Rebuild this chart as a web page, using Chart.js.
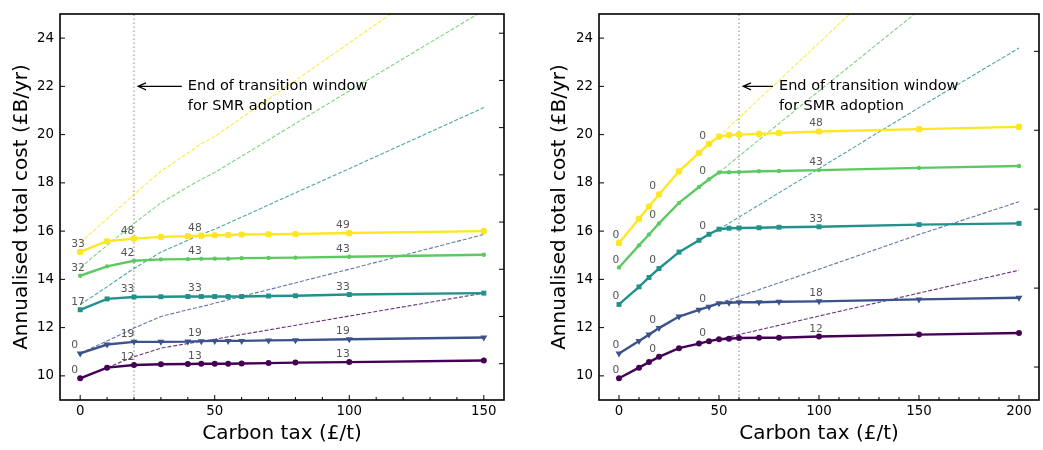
<!DOCTYPE html>
<html><head><meta charset="utf-8">
<script src="https://cdn.jsdelivr.net/npm/chart.js@4.4.1/dist/chart.umd.min.js"></script>
<style>
html,body{margin:0;padding:0;background:#fff;overflow:hidden;}
#wrap{position:relative;width:1043px;height:450px;}
canvas{position:absolute;top:0;}
</style></head><body>
<div id="wrap">
<canvas id="c1" width="520" height="450" style="left:0;width:520px;height:450px"></canvas>
<canvas id="c2" width="523" height="450" style="left:520px;width:523px;height:450px"></canvas>
</div>
<script>
// ---------- DATA ----------
const xLeft  = [0,10,20,30,40,45,50,55,60,70,80,100,150];
const xRight = [0,10,15,20,30,40,45,50,55,60,70,80,100,150,200];
const xBase  = [0,10,15,20,30,40,45,50,100,150,200];

const leftPurple = [9.90,10.34,10.45,10.48,10.49,10.50,10.50,10.50,10.51,10.53,10.55,10.57,10.64];
const leftBlue   = [10.93,11.30,11.41,11.41,11.42,11.44,11.45,11.45,11.45,11.47,11.48,11.52,11.59];
const leftTeal   = [12.74,13.19,13.27,13.28,13.29,13.29,13.29,13.29,13.29,13.31,13.32,13.37,13.43];
const leftGreen  = [14.15,14.54,14.77,14.83,14.84,14.85,14.86,14.86,14.88,14.89,14.90,14.94,15.02];
const leftYellow = [15.14,15.58,15.69,15.76,15.79,15.81,15.83,15.84,15.86,15.87,15.88,15.92,16.00];

const rightPurple = [9.90,10.34,10.57,10.79,11.15,11.34,11.44,11.52,11.54,11.57,11.58,11.58,11.63,11.71,11.78];
const rightBlue   = [10.93,11.45,11.71,11.98,12.46,12.74,12.87,13.01,13.03,13.05,13.05,13.07,13.09,13.17,13.24];
const rightTeal   = [12.96,13.69,14.08,14.45,15.13,15.62,15.87,16.08,16.12,16.13,16.14,16.16,16.18,16.27,16.32];
const rightGreen  = [14.49,15.41,15.86,16.32,17.17,17.83,18.15,18.43,18.44,18.45,18.48,18.49,18.53,18.62,18.70];
const rightYellow = [15.51,16.51,17.02,17.52,18.48,19.24,19.62,19.92,19.98,20.00,20.03,20.07,20.13,20.23,20.32];

// no-SMR trajectories (dashed)
const basePurple = [9.90,10.34,10.57,10.79,11.15,11.34,11.44,11.52,12.48,13.43,14.38];
const baseBlue   = [10.93,11.45,11.71,11.98,12.46,12.74,12.87,13.01,14.42,15.86,17.22];
const baseTeal   = [12.96,13.69,14.08,14.45,15.13,15.62,15.87,16.08,18.59,21.12,23.59];
const baseGreen  = [14.49,15.41,15.86,16.32,17.17,17.83,18.15,18.43,21.81,25.15,28.50];
const baseYellow = [15.51,16.51,17.02,17.52,18.48,19.24,19.62,19.92,23.80,27.70,31.60];

// point labels (numbers of SMRs) at these carbon tax values
const labelAt = [0,20,45,100];
const leftLabels = [
  ['0','12','13','13'],
  ['0','19','19','19'],
  ['17','33','33','33'],
  ['32','42','43','43'],
  ['33','48','48','49']
];
const rightLabels = [
  ['0','0','0','12'],
  ['0','0','0','18'],
  ['0','0','0','33'],
  ['0','0','0','43'],
  ['0','0','0','48']
];

const yTicks = [10,12,14,16,18,20,22,24];
const xTicksLeft = [0,50,100,150];
const xTicksRight = [0,50,100,150,200];
const xMinorLeft = [10,20,30,40,60,70,80,90,110,120,130,140];
const xMinorRight = [10,20,30,40,60,70,80,90,110,120,130,140,160,170,180,190];
const twinTicksLeft = [1,2,3,4,5,6,7,8];
const twinTicksRight = [1,2,3,4,5];

const transitionLeft = 20, transitionRight = 60, annotY = 22;
const annotText = ['End of transition window', 'for SMR adoption'];
const xTitle = 'Carbon tax (£/t)';
const yTitle = 'Annualised total cost (£B/yr)';

// ---------- STYLE ----------
const FONT = '"DejaVu Sans", sans-serif';
const colors = ['#440154','#3b528b','#21918c','#5ec962','#fde725'];
const dashColors = ['rgba(68,1,84,0.8)','rgba(59,82,139,0.8)','rgba(33,145,140,0.8)','rgba(94,201,98,0.8)','rgba(253,231,37,0.85)'];
const markers = [
  {style:'circle', r:3, rot:0},
  {style:'triangle', r:4, rot:180},
  {style:'rect', r:3.5, rot:0},
  {style:'circle', r:2.2, rot:0},
  {style:'rectRounded', r:3.6, rot:0}
];

function valAt(xs, ys, xv){ const i = xs.indexOf(xv); return ys[i]; }

const decoPlugin = {
  id: 'deco',
  beforeDatasetsDraw(chart) {
    const o = chart.options.plugins.deco;
    const {ctx, chartArea:a, scales:{x}} = chart;
    const px = x.getPixelForValue(o.vline);
    ctx.save();
    ctx.strokeStyle = '#b4b4b4';
    ctx.lineWidth = 1.6;
    ctx.setLineDash([1.6,2.4]);
    ctx.beginPath(); ctx.moveTo(px, a.bottom); ctx.lineTo(px, a.top); ctx.stroke();
    ctx.restore();
  },
  afterDraw(chart) {
    const o = chart.options.plugins.deco;
    const {ctx, chartArea:a, scales:{x, y, y2}} = chart;
    ctx.save();
    // point labels
    ctx.font = '10.7px ' + FONT;
    ctx.fillStyle = '#555555';
    ctx.textAlign = 'left';
    ctx.textBaseline = 'middle';
    const dxs = [-3.3,-4.9,-4.9,-4.9];
    o.series.forEach((ys, i) => {
      labelAt.forEach((lx, k) => {
        const v = valAt(o.xs, ys, lx);
        const px = x.getPixelForValue(lx + dxs[k]);
        const py = y.getPixelForValue(v) - 7.8;
        ctx.fillText(o.labels[i][k], px, py);
      });
    });
    // annotation
    const vx = x.getPixelForValue(o.vline);
    const tx = x.getPixelForValue(o.vline + 20);
    const ay = y.getPixelForValue(annotY);
    ctx.strokeStyle = '#000'; ctx.lineWidth = 1.1; ctx.setLineDash([]);
    const head = vx + 4, tail = tx - 6;
    ctx.beginPath(); ctx.moveTo(tail, ay); ctx.lineTo(head, ay);
    ctx.moveTo(head + 8, ay - 3.5); ctx.lineTo(head, ay); ctx.lineTo(head + 8, ay + 3.5);
    ctx.stroke();
    ctx.fillStyle = '#000';
    ctx.font = '14.5px ' + FONT;
    ctx.textAlign = 'left'; ctx.textBaseline = 'middle';
    ctx.fillText(annotText[0], tx, ay);
    ctx.fillText(annotText[1], tx, ay + 19.4);
    // frame
    ctx.lineWidth = 1.6;
    ctx.strokeRect(a.left, a.top, a.right - a.left, a.bottom - a.top);
    // ticks
    ctx.lineWidth = 1;
    ctx.beginPath();
    yTicks.forEach(v => { const p = y.getPixelForValue(v); ctx.moveTo(a.left, p); ctx.lineTo(a.left + 5, p); });
    o.twin.forEach(v => { const p = y2.getPixelForValue(v); ctx.moveTo(a.right, p); ctx.lineTo(a.right - 5, p); });
    o.xMajor.forEach(v => { const p = x.getPixelForValue(v); ctx.moveTo(p, a.bottom); ctx.lineTo(p, a.bottom - 5); });
    o.xMinor.forEach(v => { const p = x.getPixelForValue(v); ctx.moveTo(p, a.bottom); ctx.lineTo(p, a.bottom - 3); });
    ctx.stroke();
    // titles
    ctx.font = '20px ' + FONT;
    ctx.textAlign = 'center'; ctx.textBaseline = 'middle';
    ctx.fillText(xTitle, (a.left + a.right) / 2, 434);
    ctx.translate(o.yTitleX, (a.top + a.bottom) / 2);
    ctx.rotate(-Math.PI / 2);
    ctx.fillText(yTitle, 0, 0);
    ctx.restore();
  }
};

function makeChart(id, cfg) {
  const solid = cfg.series.map((ys, i) => ({
    data: cfg.xs.map((xv, j) => ({x: xv, y: ys[j]})),
    borderColor: colors[i], backgroundColor: colors[i],
    borderWidth: 2.4, tension: 0,
    pointStyle: markers[i].style, pointRadius: markers[i].r, pointRotation: markers[i].rot,
    pointBorderWidth: 0, pointBackgroundColor: colors[i],
    order: 0
  }));
  const bases = [basePurple, baseBlue, baseTeal, baseGreen, baseYellow];
  const dashed = bases.map((ys, i) => ({
    data: xBase.map((xv, j) => ({x: xv, y: ys[j]})).filter(p => p.x >= cfg.dashFrom && p.x <= cfg.dashTo),
    borderColor: dashColors[i], borderWidth: 1.1, borderDash: [4, 1.8],
    pointRadius: 0, tension: 0, order: 1
  }));
  const noTickGrid = {display: false, drawTicks: false};
  return new Chart(document.getElementById(id), {
    type: 'line',
    data: { datasets: dashed.concat(solid) },
    options: {
      responsive: false, animation: false, events: [],
      layout: { padding: { top: 10, left: 0, right: 0, bottom: 0 } },
      plugins: {
        legend: {display: false}, tooltip: {enabled: false},
        deco: { vline: cfg.vline, series: cfg.series, xs: cfg.xs, labels: cfg.labels,
                twin: cfg.twin, xMajor: cfg.xMajor, xMinor: cfg.xMinor, yTitleX: cfg.yTitleX }
      },
      scales: {
        x: {
          type: 'linear', min: cfg.xmin, max: cfg.xmax, bounds: 'data',
          grid: noTickGrid, border: {display: false},
          ticks: { font: {family: FONT, size: 13.33}, color: '#000', padding: 4, autoSkip: false, maxRotation: 0 },
          afterBuildTicks: s => { s.ticks = cfg.xMajor.map(v => ({value: v})); },
          afterFit: s => { s.height = 50; }
        },
        y: {
          type: 'linear', position: 'left', min: 9, max: 25, bounds: 'data',
          grid: noTickGrid, border: {display: false},
          ticks: { font: {family: FONT, size: 13.33}, color: '#000', padding: 6, autoSkip: false },
          afterBuildTicks: s => { s.ticks = yTicks.map(v => ({value: v})); },
          afterFit: s => { s.width = cfg.yWidth; }
        },
        y2: {
          type: 'linear', position: 'right', min: cfg.twinMin, max: cfg.twinMax, bounds: 'data',
          grid: noTickGrid, border: {display: false},
          ticks: { display: false },
          afterBuildTicks: s => { s.ticks = cfg.twin.map(v => ({value: v})); },
          afterFit: s => { s.width = cfg.y2Width; }
        }
      }
    },
    plugins: [decoPlugin]
  });
}

makeChart('c1', {
  xs: xLeft, series: [leftPurple, leftBlue, leftTeal, leftGreen, leftYellow], labels: leftLabels,
  xmin: -7.5, xmax: 157.5, dashFrom: 0, dashTo: 150, vline: transitionLeft,
  xMajor: xTicksLeft, xMinor: xMinorLeft, twin: twinTicksLeft, twinMin: 0.2306, twinMax: 8.407,
  yWidth: 60, y2Width: 16, yTitleX: 21.3
});
makeChart('c2', {
  xs: xRight, series: [rightPurple, rightBlue, rightTeal, rightGreen, rightYellow], labels: rightLabels,
  xmin: -10, xmax: 210, dashFrom: 50, dashTo: 200, vline: transitionRight,
  xMajor: xTicksRight, xMinor: xMinorRight, twin: twinTicksRight, twinMin: 0.5825, twinMax: 5.4729,
  yWidth: 79, y2Width: 1, yTitleX: 40
});
</script>
</body></html>
